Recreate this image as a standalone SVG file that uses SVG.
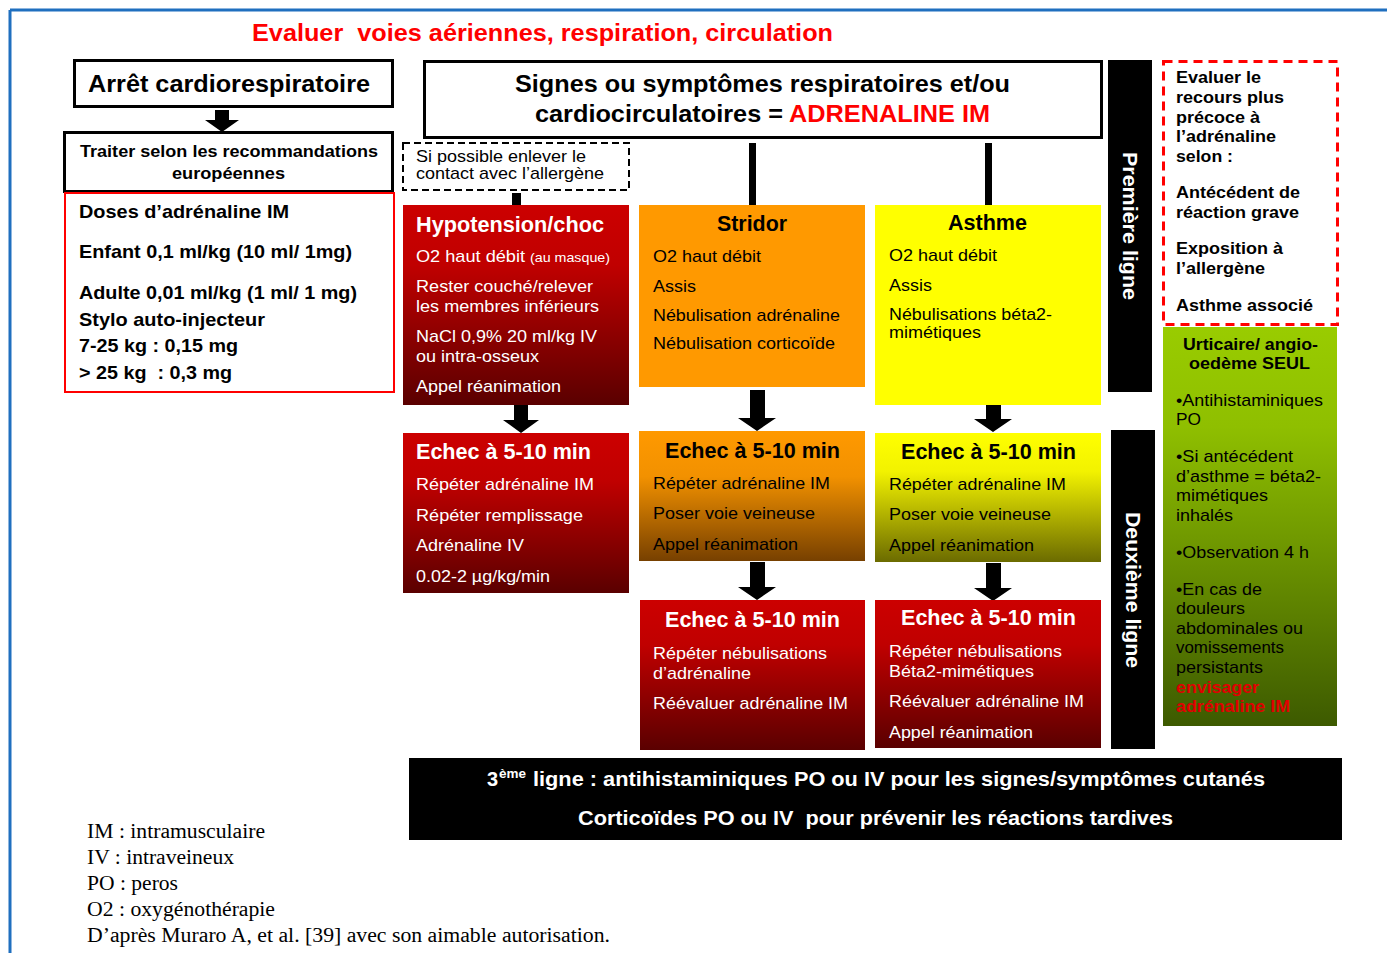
<svg xmlns="http://www.w3.org/2000/svg" width="1387" height="953" viewBox="0 0 1387 953">
<defs>
<linearGradient id="gRed" x1="0" y1="0" x2="0" y2="1"><stop offset="0" stop-color="#cc0000"/><stop offset="0.3" stop-color="#c00000"/><stop offset="1" stop-color="#5a0000"/></linearGradient>
<linearGradient id="gOrange" x1="0" y1="0" x2="0" y2="1"><stop offset="0" stop-color="#ff9900"/><stop offset="0.35" stop-color="#f29100"/><stop offset="1" stop-color="#774000"/></linearGradient>
<linearGradient id="gYellow" x1="0" y1="0" x2="0" y2="1"><stop offset="0" stop-color="#ffff00"/><stop offset="0.3" stop-color="#f2f200"/><stop offset="1" stop-color="#6b6b00"/></linearGradient>
<linearGradient id="gGreen" x1="0" y1="0" x2="0" y2="1"><stop offset="0" stop-color="#99cc00"/><stop offset="0.25" stop-color="#8fbf00"/><stop offset="1" stop-color="#3d5a00"/></linearGradient>
<style>
text{font-family:"Liberation Sans",Arial,sans-serif;white-space:pre}
.b{font-weight:bold}
.w{fill:#fff}
.k{fill:#000}
.r{fill:#ff0000}
.dr{fill:#e00000}
.h22{font-size:22px;font-weight:bold}
.t17{font-size:17px}
.serif{font-family:"Liberation Serif","Times New Roman",serif;font-size:20px;fill:#000}
.box{fill:#fff;stroke:#000;stroke-width:3}
.arrow{fill:#000}
</style>
</defs>
<rect x="0" y="0" width="1387" height="953" fill="#fff"/>
<g id="frame">
<line x1="10" y1="10" x2="1387" y2="10" stroke="#1f6fbf" stroke-width="3"/>
<line x1="10" y1="10" x2="10" y2="953" stroke="#1f6fbf" stroke-width="3"/>
</g>
<g id="title">
<text x="252" y="41" class="b r" font-size="24" textLength="581" lengthAdjust="spacingAndGlyphs" xml:space="preserve">Evaluer  voies aériennes, respiration, circulation</text>
</g>

<g id="connectors">
<polygon class="arrow" points="215,110 229,110 229,120 239,120 222,132 205,120 215,120"/>
<rect x="512" y="193" width="9" height="12" fill="#000"/>
<rect x="749" y="143" width="7" height="62" fill="#000"/>
<rect x="985" y="143" width="7" height="62" fill="#000"/>
<polygon class="arrow" points="514,405 528,405 528,420 539,420 521,433 503,420 514,420"/>
<polygon class="arrow" points="750,390 765,390 765,418 776,418 757,431 738,418 750,418"/>
<polygon class="arrow" points="986,391 1001,391 1001,419 1012,419 993,432 974,419 986,419"/>
<polygon class="arrow" points="750,562 765,562 765,587 776,587 757,600 738,587 750,587"/>
<polygon class="arrow" points="986,563 1001,563 1001,588 1012,588 993,601 974,588 986,588"/>
</g>

<g id="arret">
<rect class="box" x="74.5" y="60.5" width="318" height="46"/>
<text x="88" y="92" class="b" font-size="24" textLength="282" lengthAdjust="spacingAndGlyphs">Arrêt cardiorespiratoire</text>
</g>
<g id="traiter">
<rect class="box" x="64.5" y="132.5" width="328" height="59"/>
<text x="80" y="157" class="b" font-size="17" textLength="298" lengthAdjust="spacingAndGlyphs">Traiter selon les recommandations</text>
<text x="172" y="179" class="b" font-size="17" textLength="113" lengthAdjust="spacingAndGlyphs">européennes</text>
</g>
<g id="doses">
<rect x="65" y="193" width="329" height="199" fill="#fff" stroke="#ff0000" stroke-width="2"/>
<g class="b" font-size="19">
<text x="79" y="218" textLength="210" lengthAdjust="spacingAndGlyphs">Doses d’adrénaline IM</text>
<text x="79" y="258" textLength="273" lengthAdjust="spacingAndGlyphs">Enfant 0,1 ml/kg (10 ml/ 1mg)</text>
<text x="79" y="299" textLength="278" lengthAdjust="spacingAndGlyphs">Adulte 0,01 ml/kg (1 ml/ 1 mg)</text>
<text x="79" y="326" textLength="186" lengthAdjust="spacingAndGlyphs">Stylo auto-injecteur</text>
<text x="79" y="352" textLength="159" lengthAdjust="spacingAndGlyphs">7-25 kg : 0,15 mg</text>
<text x="79" y="379" textLength="153" lengthAdjust="spacingAndGlyphs" xml:space="preserve">&gt; 25 kg  : 0,3 mg</text>
</g>
</g>

<g id="signes">
<rect class="box" x="424.5" y="61.5" width="677" height="76"/>
<text x="515" y="92" class="b" font-size="24" textLength="495" lengthAdjust="spacingAndGlyphs">Signes ou symptômes respiratoires et/ou</text>
<text x="535" y="122" class="b" font-size="24" textLength="248" lengthAdjust="spacingAndGlyphs">cardiocirculatoires =</text>
<text x="789" y="122" class="b r" font-size="24" textLength="201" lengthAdjust="spacingAndGlyphs">ADRENALINE IM</text>
</g>

<g id="allergene">
<rect x="403" y="143" width="226" height="47" fill="#fff" stroke="#000" stroke-width="2" stroke-dasharray="7,4"/>
<text x="416" y="162" class="t17" textLength="170" lengthAdjust="spacingAndGlyphs">Si possible enlever le</text>
<text x="416" y="179" class="t17" textLength="188" lengthAdjust="spacingAndGlyphs">contact avec l’allergène</text>
</g>

<g id="hypotension">
<rect x="403" y="205" width="226" height="200" fill="url(#gRed)"/>
<g class="w">
<text x="416" y="232" class="h22" textLength="188" lengthAdjust="spacingAndGlyphs">Hypotension/choc</text>
<text x="416" y="262" class="t17" textLength="109" lengthAdjust="spacingAndGlyphs">O2 haut débit</text>
<text x="530" y="262" font-size="13" textLength="80" lengthAdjust="spacingAndGlyphs">(au masque)</text>
<text x="416" y="292" class="t17" textLength="177" lengthAdjust="spacingAndGlyphs">Rester couché/relever</text>
<text x="416" y="312" class="t17" textLength="183" lengthAdjust="spacingAndGlyphs">les membres inférieurs</text>
<text x="416" y="342" class="t17" textLength="181" lengthAdjust="spacingAndGlyphs">NaCl 0,9% 20 ml/kg IV</text>
<text x="416" y="362" class="t17" textLength="123" lengthAdjust="spacingAndGlyphs">ou intra-osseux</text>
<text x="416" y="392" class="t17" textLength="145" lengthAdjust="spacingAndGlyphs">Appel réanimation</text>
</g>
</g>

<g id="stridor">
<rect x="639" y="205" width="226" height="182" fill="#ff9900"/>
<g class="k">
<text x="717" y="231" class="h22" textLength="70" lengthAdjust="spacingAndGlyphs">Stridor</text>
<text x="653" y="262" class="t17" textLength="108" lengthAdjust="spacingAndGlyphs">O2 haut débit</text>
<text x="653" y="292" class="t17" textLength="43" lengthAdjust="spacingAndGlyphs">Assis</text>
<text x="653" y="321" class="t17" textLength="187" lengthAdjust="spacingAndGlyphs">Nébulisation adrénaline</text>
<text x="653" y="349" class="t17" textLength="182" lengthAdjust="spacingAndGlyphs">Nébulisation corticoïde</text>
</g>
</g>

<g id="asthme">
<rect x="875" y="205" width="226" height="200" fill="#ffff00"/>
<g class="k">
<text x="948" y="230" class="h22" textLength="79" lengthAdjust="spacingAndGlyphs">Asthme</text>
<text x="889" y="261" class="t17" textLength="108" lengthAdjust="spacingAndGlyphs">O2 haut débit</text>
<text x="889" y="291" class="t17" textLength="43" lengthAdjust="spacingAndGlyphs">Assis</text>
<text x="889" y="320" class="t17" textLength="163" lengthAdjust="spacingAndGlyphs">Nébulisations béta2-</text>
<text x="889" y="338" class="t17" textLength="92" lengthAdjust="spacingAndGlyphs">mimétiques</text>
</g>
</g>

<g id="echec-hypo">
<rect x="403" y="433" width="226" height="160" fill="url(#gRed)"/>
<g class="w">
<text x="416" y="459" class="h22" textLength="175" lengthAdjust="spacingAndGlyphs">Echec à 5-10 min</text>
<text x="416" y="490" class="t17" textLength="178" lengthAdjust="spacingAndGlyphs">Répéter adrénaline IM</text>
<text x="416" y="521" class="t17" textLength="167" lengthAdjust="spacingAndGlyphs">Répéter remplissage</text>
<text x="416" y="551" class="t17" textLength="108" lengthAdjust="spacingAndGlyphs">Adrénaline IV</text>
<text x="416" y="582" class="t17" textLength="134" lengthAdjust="spacingAndGlyphs">0.02-2 µg/kg/min</text>
</g>
</g>

<g id="echec-stridor">
<rect x="639" y="431" width="226" height="130" fill="url(#gOrange)"/>
<g class="k">
<text x="665" y="458" class="h22" textLength="175" lengthAdjust="spacingAndGlyphs">Echec à 5-10 min</text>
<text x="653" y="489" class="t17" textLength="177" lengthAdjust="spacingAndGlyphs">Répéter adrénaline IM</text>
<text x="653" y="519" class="t17" textLength="162" lengthAdjust="spacingAndGlyphs">Poser voie veineuse</text>
<text x="653" y="550" class="t17" textLength="145" lengthAdjust="spacingAndGlyphs">Appel réanimation</text>
</g>
</g>

<g id="echec-asthme">
<rect x="875" y="433" width="226" height="129" fill="url(#gYellow)"/>
<g class="k">
<text x="901" y="459" class="h22" textLength="175" lengthAdjust="spacingAndGlyphs">Echec à 5-10 min</text>
<text x="889" y="490" class="t17" textLength="177" lengthAdjust="spacingAndGlyphs">Répéter adrénaline IM</text>
<text x="889" y="520" class="t17" textLength="162" lengthAdjust="spacingAndGlyphs">Poser voie veineuse</text>
<text x="889" y="551" class="t17" textLength="145" lengthAdjust="spacingAndGlyphs">Appel réanimation</text>
</g>
</g>

<g id="echec2-stridor">
<rect x="640" y="600" width="225" height="150" fill="url(#gRed)"/>
<g class="w">
<text x="665" y="627" class="h22" textLength="175" lengthAdjust="spacingAndGlyphs">Echec à 5-10 min</text>
<text x="653" y="659" class="t17" textLength="174" lengthAdjust="spacingAndGlyphs">Répéter nébulisations</text>
<text x="653" y="679" class="t17" textLength="98" lengthAdjust="spacingAndGlyphs">d’adrénaline</text>
<text x="653" y="709" class="t17" textLength="195" lengthAdjust="spacingAndGlyphs">Réévaluer adrénaline IM</text>
</g>
</g>

<g id="echec2-asthme">
<rect x="875" y="600" width="226" height="148" fill="url(#gRed)"/>
<g class="w">
<text x="901" y="625" class="h22" textLength="175" lengthAdjust="spacingAndGlyphs">Echec à 5-10 min</text>
<text x="889" y="657" class="t17" textLength="173" lengthAdjust="spacingAndGlyphs">Répéter nébulisations</text>
<text x="889" y="677" class="t17" textLength="145" lengthAdjust="spacingAndGlyphs">Béta2-mimétiques</text>
<text x="889" y="707" class="t17" textLength="195" lengthAdjust="spacingAndGlyphs">Réévaluer adrénaline IM</text>
<text x="889" y="738" class="t17" textLength="144" lengthAdjust="spacingAndGlyphs">Appel réanimation</text>
</g>
</g>

<g id="premiere-ligne">
<rect x="1108" y="60" width="44" height="332" fill="#000"/>
<text transform="translate(1130,226) rotate(90)" x="0" y="7" text-anchor="middle" class="b w" font-size="20" textLength="148" lengthAdjust="spacingAndGlyphs">Première ligne</text>
</g>
<g id="deuxieme-ligne">
<rect x="1111" y="430" width="44" height="319" fill="#000"/>
<text transform="translate(1133,590) rotate(90)" x="0" y="7" text-anchor="middle" class="b w" font-size="20" textLength="156" lengthAdjust="spacingAndGlyphs">Deuxième ligne</text>
</g>

<g id="evaluer-recours">
<rect x="1163.5" y="61.5" width="174" height="263" fill="#fff" stroke="#ff0000" stroke-width="3" stroke-dasharray="9,6"/>
<g class="b k" font-size="17">
<text x="1176" y="83" textLength="85" lengthAdjust="spacingAndGlyphs">Evaluer le</text>
<text x="1176" y="103" textLength="108" lengthAdjust="spacingAndGlyphs">recours plus</text>
<text x="1176" y="123" textLength="84" lengthAdjust="spacingAndGlyphs">précoce à</text>
<text x="1176" y="142" textLength="100" lengthAdjust="spacingAndGlyphs">l’adrénaline</text>
<text x="1176" y="162" textLength="57" lengthAdjust="spacingAndGlyphs">selon :</text>
<text x="1176" y="198" textLength="124" lengthAdjust="spacingAndGlyphs">Antécédent de</text>
<text x="1176" y="218" textLength="123" lengthAdjust="spacingAndGlyphs">réaction grave</text>
<text x="1176" y="254" textLength="107" lengthAdjust="spacingAndGlyphs">Exposition à</text>
<text x="1176" y="274" textLength="89" lengthAdjust="spacingAndGlyphs">l’allergène</text>
<text x="1176" y="311" textLength="137" lengthAdjust="spacingAndGlyphs">Asthme associé</text>
</g>
</g>

<g id="urticaire">
<rect x="1163" y="327" width="174" height="399" fill="url(#gGreen)"/>
<g class="b k" font-size="17">
<text x="1183" y="350" textLength="135" lengthAdjust="spacingAndGlyphs">Urticaire/ angio-</text>
<text x="1189" y="369" textLength="121" lengthAdjust="spacingAndGlyphs">oedème SEUL</text>
</g>
<g class="k" font-size="17">
<text x="1176" y="406" textLength="147" lengthAdjust="spacingAndGlyphs">•Antihistaminiques</text>
<text x="1176" y="425" textLength="25" lengthAdjust="spacingAndGlyphs">PO</text>
<text x="1176" y="462" textLength="117" lengthAdjust="spacingAndGlyphs">•Si antécédent</text>
<text x="1176" y="482" textLength="145" lengthAdjust="spacingAndGlyphs">d’asthme = béta2-</text>
<text x="1176" y="501" textLength="92" lengthAdjust="spacingAndGlyphs">mimétiques</text>
<text x="1176" y="521" textLength="57" lengthAdjust="spacingAndGlyphs">inhalés</text>
<text x="1176" y="558" textLength="133" lengthAdjust="spacingAndGlyphs">•Observation 4 h</text>
<text x="1176" y="595" textLength="86" lengthAdjust="spacingAndGlyphs">•En cas de</text>
<text x="1176" y="614" textLength="69" lengthAdjust="spacingAndGlyphs">douleurs</text>
<text x="1176" y="634" textLength="127" lengthAdjust="spacingAndGlyphs">abdominales ou</text>
<text x="1176" y="653" textLength="108" lengthAdjust="spacingAndGlyphs">vomissements</text>
<text x="1176" y="673" textLength="87" lengthAdjust="spacingAndGlyphs">persistants</text>
</g>
<g class="b dr" font-size="17">
<text x="1176" y="693" textLength="83" lengthAdjust="spacingAndGlyphs">envisager</text>
<text x="1176" y="712" textLength="114" lengthAdjust="spacingAndGlyphs">adrénaline IM</text>
</g>
</g>

<g id="troisieme-ligne">
<rect x="409" y="758" width="933" height="82" fill="#000"/>
<g class="b w">
<text x="487" y="786" font-size="20">3</text>
<text x="499" y="778" font-size="12" textLength="27" lengthAdjust="spacingAndGlyphs">ème</text>
<text x="533" y="786" font-size="20" textLength="732" lengthAdjust="spacingAndGlyphs">ligne : antihistaminiques PO ou IV pour les signes/symptômes cutanés</text>
<text x="578" y="825" font-size="20" textLength="595" lengthAdjust="spacingAndGlyphs" xml:space="preserve">Corticoïdes PO ou IV  pour prévenir les réactions tardives</text>
</g>
</g>

<g id="legend">
<text x="87" y="838" class="serif" textLength="178" lengthAdjust="spacingAndGlyphs">IM : intramusculaire</text>
<text x="87" y="864" class="serif" textLength="147" lengthAdjust="spacingAndGlyphs">IV : intraveineux</text>
<text x="87" y="890" class="serif" textLength="91" lengthAdjust="spacingAndGlyphs">PO : peros</text>
<text x="87" y="916" class="serif" textLength="188" lengthAdjust="spacingAndGlyphs">O2 : oxygénothérapie</text>
<text x="87" y="942" class="serif" textLength="523" lengthAdjust="spacingAndGlyphs">D’après Muraro A, et al. [39] avec son aimable autorisation.</text>
</g>
</svg>
